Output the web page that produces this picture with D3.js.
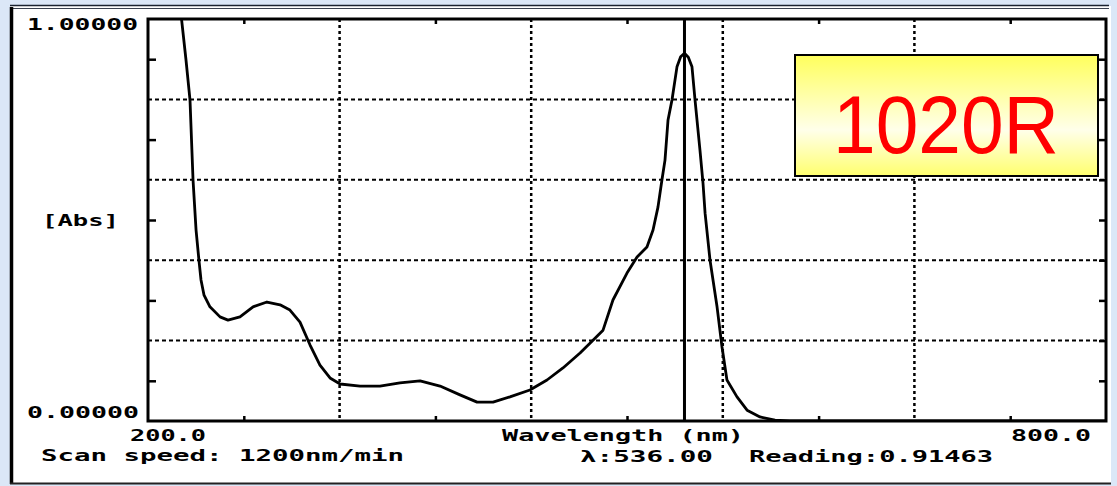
<!DOCTYPE html>
<html>
<head>
<meta charset="utf-8">
<script src="https://cdn.jsdelivr.net/npm/d3@7"></script>
<style>
  html, body { margin: 0; padding: 0; background: #dbe7f7; }
  svg { display: block; }
</style>
</head>
<body>
<svg id="chart" width="1117" height="486"></svg>
<script>
// Absorbance scan, 200–800 nm
const wavelength = [221, 223.8, 226.3, 228.2, 230.1, 231.9, 233.2, 235.1, 238.8, 245.1,
  250.1, 257.6, 265.8, 274.5, 282.7, 288.9, 295.2, 301.5, 307.7, 314.0,
  320.3, 332.8, 345.3, 357.8, 370.4, 382.9, 395.4, 406.1, 416.1, 426.7,
  439.2, 449.9, 459.9, 470.6, 478.7, 485.0, 491.2, 500.0, 506.3, 512.5,
  516.3, 519.4, 521.9, 523.8, 525.7, 528.2, 531.3, 533.6, 536.0, 538.4, 540.7, 542.6,
  545.7, 547.6, 548.9, 552.0, 556.4, 559.5, 562.6, 568.9, 575.2, 583.3,
  592.7, 602, 700, 800];
const absorbance = [1.0, 0.898, 0.799, 0.600, 0.475, 0.400, 0.351, 0.313, 0.284, 0.259,
  0.251, 0.259, 0.284, 0.296, 0.289, 0.276, 0.246, 0.189, 0.139, 0.107,
  0.092, 0.087, 0.087, 0.095, 0.100, 0.087, 0.065, 0.047, 0.047, 0.060,
  0.077, 0.102, 0.132, 0.169, 0.201, 0.226, 0.301, 0.368, 0.408, 0.433,
  0.475, 0.532, 0.600, 0.649, 0.749, 0.799, 0.881, 0.906, 0.91463, 0.905, 0.881, 0.799,
  0.674, 0.592, 0.517, 0.400, 0.284, 0.184, 0.102, 0.060, 0.027, 0.010,
  0.002, 0, 0, 0];

const xDomain = [200, 800];
const yDomain = [0, 1];
const xGrid = [320, 440, 560, 680];
const yGrid = [0.2, 0.4, 0.6, 0.8];
const xMinorTicks = [260, 380, 500, 620, 740];
const yMinorTicks = [0.1, 0.3, 0.5, 0.7, 0.9];
const xTickLabels = ["200.0", "800.0"];
const yTickLabels = ["1.00000", "0.00000"];
const cursorWavelength = 536.0;
const cursorReading = 0.91463;
const sampleName = "1020R";

const svg = d3.select("#chart");
const W = 1117, H = 486;
const mono = "'DejaVu Sans Mono', 'Liberation Mono', monospace";

const x = d3.scaleLinear().domain(xDomain).range([148, 1106]);
const y = d3.scaleLinear().domain(yDomain).range([421, 19]);

// window panel
svg.append("rect").attr("x", 0).attr("y", 0).attr("width", W).attr("height", H).attr("fill", "#dbe7f7");
svg.append("rect").attr("x", 10).attr("y", 6).attr("width", 1101).attr("height", 478).attr("fill", "#fff");
svg.append("line").attr("x1", 10).attr("x2", 1109).attr("y1", 5.5).attr("y2", 5.5)
  .attr("stroke", "#1a2230").attr("stroke-width", 1.5);
svg.append("line").attr("x1", 10).attr("x2", 1109).attr("y1", 8.5).attr("y2", 8.5)
  .attr("stroke", "#3a4250").attr("stroke-width", 1);
svg.append("line").attr("x1", 11.5).attr("x2", 11.5).attr("y1", 7).attr("y2", 484)
  .attr("stroke", "#000").attr("stroke-width", 3.5);
svg.append("line").attr("x1", 10).attr("x2", 1111).attr("y1", 483.5).attr("y2", 483.5)
  .attr("stroke", "#222").attr("stroke-width", 2);

// grid
const grid = svg.append("g");
grid.selectAll("line.vg").data(xGrid).join("line")
  .attr("x1", d => x(d)).attr("x2", d => x(d))
  .attr("y1", y(1)).attr("y2", y(0))
  .attr("stroke", "#000").attr("stroke-width", 2.5).attr("stroke-dasharray", "3,3");
grid.selectAll("line.hg").data(yGrid).join("line")
  .attr("x1", x(200)).attr("x2", x(800))
  .attr("y1", d => y(d)).attr("y2", d => y(d))
  .attr("stroke", "#000").attr("stroke-width", 2).attr("stroke-dasharray", "4,3");

// inward ticks on all four sides
const axG = svg.append("g");
axG.append("g").attr("transform", `translate(0,${y(0)})`)
  .call(d3.axisBottom(x).tickValues(xMinorTicks).tickSize(-5).tickFormat(""));
axG.append("g").attr("transform", `translate(0,${y(1)})`)
  .call(d3.axisTop(x).tickValues(xMinorTicks).tickSize(-5).tickFormat(""));
axG.append("g").attr("transform", `translate(${x(200)},0)`)
  .call(d3.axisLeft(y).tickValues(yMinorTicks).tickSize(-8).tickFormat(""));
axG.append("g").attr("transform", `translate(${x(800)},0)`)
  .call(d3.axisRight(y).tickValues(yMinorTicks.concat(yGrid)).tickSize(-7).tickFormat(""));
axG.selectAll(".domain").remove();
axG.selectAll(".tick line").attr("stroke", "#000").attr("stroke-width", 2.5);

// plot frame
svg.append("rect").attr("x", x(200)).attr("y", y(1))
  .attr("width", x(800) - x(200)).attr("height", y(0) - y(1))
  .attr("fill", "none").attr("stroke", "#000").attr("stroke-width", 3);

// spectrum
svg.append("clipPath").attr("id", "plotClip").append("rect")
  .attr("x", x(200)).attr("y", y(1)).attr("width", x(800) - x(200)).attr("height", y(0) - y(1));
const pts = wavelength.map((w, i) => [w, absorbance[i]]);
svg.append("path").datum(pts)
  .attr("clip-path", "url(#plotClip)")
  .attr("d", d3.line().x(d => x(d[0])).y(d => y(d[1])))
  .attr("fill", "none").attr("stroke", "#000").attr("stroke-width", 2.8)
  .attr("stroke-linejoin", "round");

// cursor line
svg.append("line").attr("x1", x(cursorWavelength)).attr("x2", x(cursorWavelength))
  .attr("y1", y(1)).attr("y2", y(0))
  .attr("stroke", "#000").attr("stroke-width", 3);

// instrument text
function label(txt, xl, base, width) {
  svg.append("text").attr("x", xl).attr("y", base)
    .attr("textLength", width).attr("lengthAdjust", "spacingAndGlyphs")
    .attr("font-family", mono).attr("font-weight", "bold").attr("font-size", 15)
    .attr("fill", "#000").text(txt);
}
label(yTickLabels[0], 27, y(1) + 11, 111);
label(yTickLabels[1], 27, y(0) - 3, 112);
label("[Abs]", 42, 226, 77);
label(xTickLabels[0], 130, 441, 76);
label("Wavelength (nm)", 502, 441, 242);
label(xTickLabels[1], 1011, 441, 80);
label("Scan speed: 1200nm/min", 41, 461, 363);
label("λ:" + cursorWavelength.toFixed(2), 580, 462, 133);
label("Reading:" + cursorReading.toFixed(5), 749, 462, 244);

// sample tag
const defs = svg.append("defs");
const grad = defs.append("linearGradient").attr("id", "tagFill")
  .attr("x1", 0).attr("y1", 0).attr("x2", 0).attr("y2", 1);
grad.append("stop").attr("offset", "0%").attr("stop-color", "#ffff5c");
grad.append("stop").attr("offset", "62%").attr("stop-color", "#ffffea");
grad.append("stop").attr("offset", "100%").attr("stop-color", "#ffff6e");
svg.append("rect").attr("x", 795).attr("y", 55).attr("width", 303).attr("height", 121)
  .attr("fill", "url(#tagFill)").attr("stroke", "#000").attr("stroke-width", 2);
svg.append("text").attr("x", 946).attr("y", 153).attr("text-anchor", "middle")
  .attr("textLength", 226).attr("lengthAdjust", "spacingAndGlyphs")
  .attr("font-family", "'Liberation Sans', Arial, sans-serif").attr("font-size", 82)
  .attr("fill", "#ff0000").text(sampleName);
</script>
</body>
</html>
